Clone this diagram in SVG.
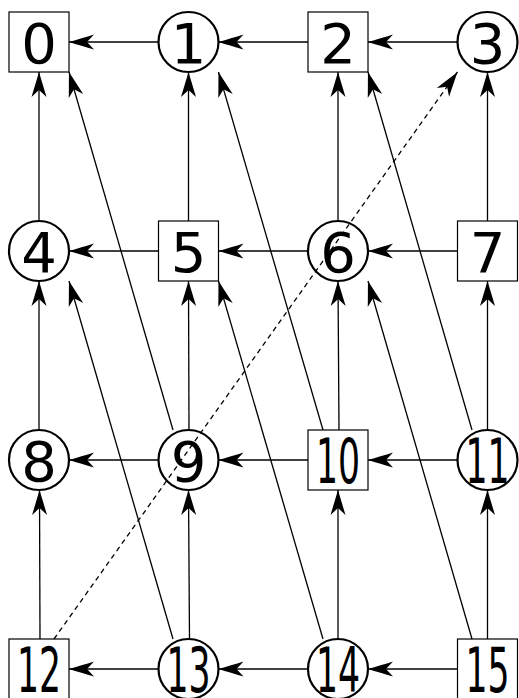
<svg xmlns="http://www.w3.org/2000/svg" width="519" height="698" viewBox="0 0 519 698">
<style>
.e{fill:none;stroke:#000;stroke-width:1.3;marker-end:url(#ah)}
.d{stroke-dasharray:5,4}
.b{fill:none;stroke:#000;stroke-width:1.2}
.c{fill:none;stroke:#000;stroke-width:2.2}
.t{font-family:"DejaVu Sans",sans-serif;font-size:56px;text-anchor:middle;fill:#000}
.t2{font-family:"DejaVu Sans",sans-serif;font-size:63px;text-anchor:middle;fill:#000}
</style>
<defs>
<marker id="ah" markerUnits="userSpaceOnUse" viewBox="-26 -9 27 18" refX="0" refY="0" markerWidth="27" markerHeight="18" orient="auto">
<path d="M0,0 C-8,-2.5 -17,-5 -25,-7.5 L-18,0 L-25,7.5 C-17,5 -8,2.5 0,0 Z" fill="#000"/>
</marker>
</defs>
<rect width="519" height="698" fill="#fff"/>
<g id="edges">
<path class="e" d="M158.5,42 L69,42"/>
<path class="e" d="M308,42 L218.5,42"/>
<path class="e" d="M457.5,42 L368,42"/>
<path class="e" d="M158.5,251 L69,251"/>
<path class="e" d="M308,251 L218.5,251"/>
<path class="e" d="M457.5,251 L368,251"/>
<path class="e" d="M158.5,460 L69,460"/>
<path class="e" d="M308,460 L218.5,460"/>
<path class="e" d="M457.5,460 L368,460"/>
<path class="e" d="M158.5,669 L69,669"/>
<path class="e" d="M308,669 L218.5,669"/>
<path class="e" d="M457.5,669 L368,669"/>
<path class="e" d="M39,221 L39,72"/>
<path class="e" d="M188.5,221 L188.5,72"/>
<path class="e" d="M338,221 L338,72"/>
<path class="e" d="M487.5,221 L487.5,72"/>
<path class="e" d="M39,430 L39,281"/>
<path class="e" d="M189,430 L188.5,281"/>
<path class="e" d="M339,430 L338,281"/>
<path class="e" d="M487.5,430 L487.5,281"/>
<path class="e" d="M40,639 L39.5,490"/>
<path class="e" d="M189.5,639 L188.5,490"/>
<path class="e" d="M338,639 L338,490"/>
<path class="e" d="M487.5,639 L487.5,490"/>
<path class="e" d="M173,430 L69,72"/>
<path class="e" d="M323,430 L218.5,72"/>
<path class="e" d="M472,430 L368,72"/>
<path class="e" d="M173,639 L69,281"/>
<path class="e" d="M323,639 L218.5,281"/>
<path class="e" d="M472,639 L368,281"/>
<path class="e d" d="M54,639 L457.5,72"/>
</g>
<g id="n0"><rect class="b" x="9" y="12" width="60" height="60"/><text class="t" x="39" y="63">0</text></g>
<g id="n1"><circle class="c" cx="188.5" cy="42" r="30"/><text class="t" x="188.5" y="63">1</text></g>
<g id="n2"><rect class="b" x="308" y="12" width="60" height="60"/><text class="t" x="338" y="63">2</text></g>
<g id="n3"><circle class="c" cx="487.5" cy="42" r="30"/><text class="t" x="487.5" y="63">3</text></g>
<g id="n4"><circle class="c" cx="39" cy="251" r="30"/><text class="t" x="39" y="272">4</text></g>
<g id="n5"><rect class="b" x="158.5" y="221" width="60" height="60"/><text class="t" x="188.5" y="272">5</text></g>
<g id="n6"><circle class="c" cx="338" cy="251" r="30"/><text class="t" x="338" y="272">6</text></g>
<g id="n7"><rect class="b" x="457.5" y="221" width="60" height="60"/><text class="t" x="487.5" y="272">7</text></g>
<g id="n8"><circle class="c" cx="39" cy="460" r="30"/><text class="t" x="39" y="481">8</text></g>
<g id="n9"><circle class="c" cx="188.5" cy="460" r="30"/><text class="t" x="188.5" y="481">9</text></g>
<g id="n10"><rect class="b" x="308" y="430" width="60" height="60"/><text class="t2" transform="translate(338 483) scale(0.55 1)">10</text></g>
<g id="n11"><circle class="c" cx="487.5" cy="460" r="30"/><text class="t2" transform="translate(487.5 483) scale(0.55 1)">11</text></g>
<g id="n12"><rect class="b" x="9" y="639" width="60" height="60"/><text class="t2" transform="translate(39 692) scale(0.55 1)">12</text></g>
<g id="n13"><circle class="c" cx="188.5" cy="669" r="30"/><text class="t2" transform="translate(188.5 692) scale(0.55 1)">13</text></g>
<g id="n14"><circle class="c" cx="338" cy="669" r="30"/><text class="t2" transform="translate(338 692) scale(0.55 1)">14</text></g>
<g id="n15"><rect class="b" x="457.5" y="639" width="60" height="60"/><text class="t2" transform="translate(487.5 692) scale(0.55 1)">15</text></g>
</svg>
